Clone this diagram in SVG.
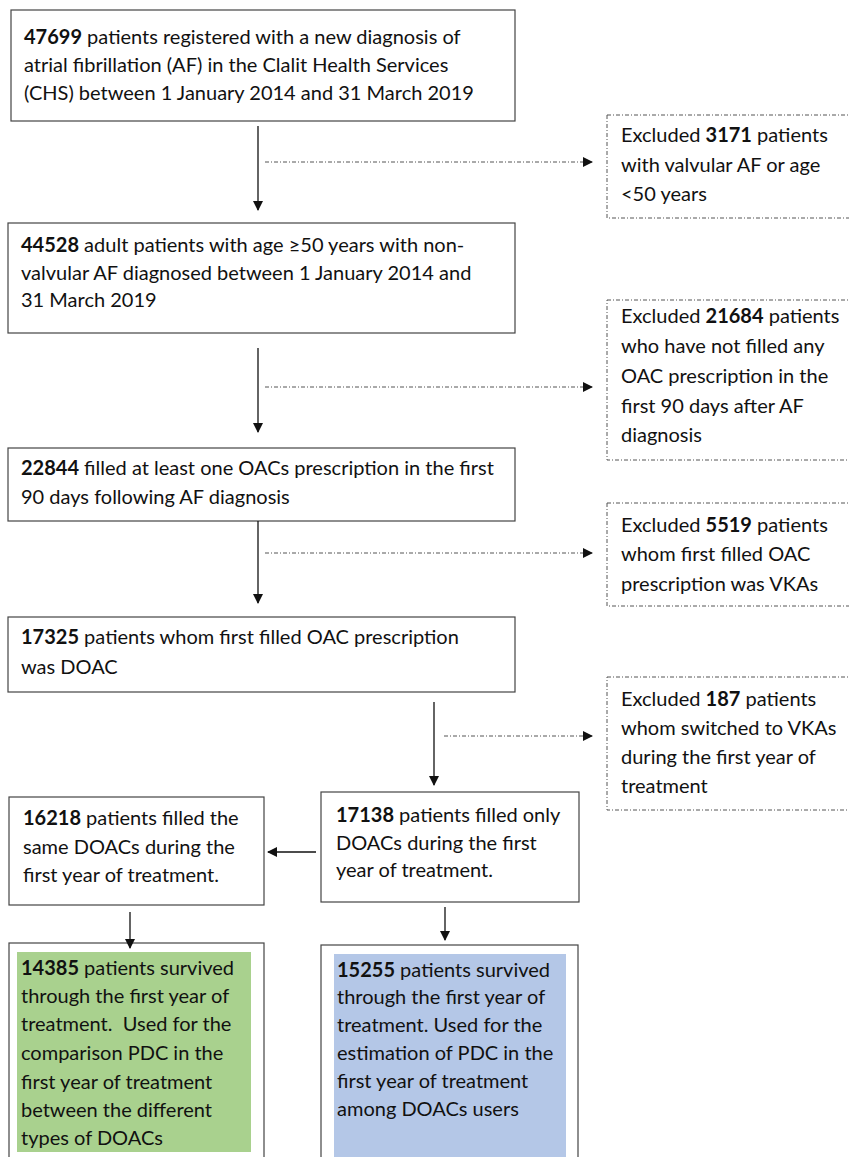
<svg xmlns="http://www.w3.org/2000/svg" width="849" height="1157" viewBox="0 0 849 1157">
<style>
.box{fill:#fff;stroke:#444;stroke-width:1.2}
.dbox{fill:#fff;stroke:#555;stroke-width:1;stroke-dasharray:4 2 1 2}
.t{font-family:Lato,"Open Sans",sans-serif;font-size:20px;fill:#111}
.b{font-weight:bold}
.ln{stroke:#111;stroke-width:1.3;fill:none}
.dl{stroke:#555;stroke-width:1;fill:none;stroke-dasharray:4 2 1 2}
</style>
<defs>
<marker id="ah" markerWidth="10" markerHeight="10" refX="9" refY="5" orient="auto" markerUnits="userSpaceOnUse">
<path d="M0,0 L10,5 L0,10 Z" fill="#111"/>
</marker>
</defs>
<rect width="849" height="1157" fill="#fff"/>

<g id="n1">
<rect class="box" x="11" y="10" width="504" height="111"/>
<text class="t" x="24" y="44"><tspan class="b">47699</tspan> patients registered with a new diagnosis of</text>
<text class="t" x="24" y="72">atrial fibrillation (AF) in the Clalit Health Services</text>
<text class="t" x="24" y="100">(CHS) between 1 January 2014 and 31 March 2019</text>
</g>

<g id="x1">
<rect class="dbox" x="607" y="115" width="250" height="103"/>
<text class="t" x="621" y="142">Excluded <tspan class="b">3171</tspan> patients</text>
<text class="t" x="621" y="172">with valvular AF or age</text>
<text class="t" x="621" y="201">&lt;50 years</text>
</g>

<g id="n2">
<rect class="box" x="8" y="223" width="507" height="110"/>
<text class="t" x="21" y="252"><tspan class="b">44528</tspan> adult patients with age ≥50 years with non-</text>
<text class="t" x="21" y="280">valvular AF diagnosed between 1 January 2014 and</text>
<text class="t" x="21" y="307">31 March 2019</text>
</g>

<g id="x2">
<rect class="dbox" x="607" y="300" width="250" height="160"/>
<text class="t" x="621" y="323">Excluded <tspan class="b">21684</tspan> patients</text>
<text class="t" x="621" y="353">who have not filled any</text>
<text class="t" x="621" y="383">OAC prescription in the</text>
<text class="t" x="621" y="413">first 90 days after AF</text>
<text class="t" x="621" y="442">diagnosis</text>
</g>

<g id="n3">
<rect class="box" x="8" y="448" width="507" height="73"/>
<text class="t" x="21" y="475"><tspan class="b">22844</tspan> filled at least one OACs prescription in the first</text>
<text class="t" x="21" y="504">90 days following AF diagnosis</text>
</g>

<g id="x3">
<rect class="dbox" x="607" y="503" width="250" height="103"/>
<text class="t" x="621" y="532">Excluded <tspan class="b">5519</tspan> patients</text>
<text class="t" x="621" y="561">whom first filled OAC</text>
<text class="t" x="621" y="591">prescription was VKAs</text>
</g>

<g id="n4">
<rect class="box" x="8" y="617" width="507" height="75"/>
<text class="t" x="21" y="644"><tspan class="b">17325</tspan> patients whom first filled OAC prescription</text>
<text class="t" x="21" y="674">was DOAC</text>
</g>

<g id="x4">
<rect class="dbox" x="607" y="677" width="250" height="133"/>
<text class="t" x="621" y="706">Excluded <tspan class="b">187</tspan> patients</text>
<text class="t" x="621" y="735">whom switched to VKAs</text>
<text class="t" x="621" y="764">during the first year of</text>
<text class="t" x="621" y="793">treatment</text>
</g>

<g id="n5">
<rect class="box" x="321" y="792" width="258" height="110"/>
<text class="t" x="336" y="822"><tspan class="b">17138</tspan> patients filled only</text>
<text class="t" x="336" y="850">DOACs during the first</text>
<text class="t" x="336" y="877">year of treatment.</text>
</g>

<g id="n6">
<rect class="box" x="9" y="797" width="255" height="108"/>
<text class="t" x="23" y="825"><tspan class="b">16218</tspan> patients filled the</text>
<text class="t" x="23" y="854">same DOACs during the</text>
<text class="t" x="23" y="882">first year of treatment.</text>
</g>

<g id="n7">
<rect class="box" x="9" y="943" width="255" height="220"/>
<rect x="17" y="952" width="234" height="200" fill="#a9d18e"/>
<text class="t" x="21" y="975"><tspan class="b">14385</tspan> patients survived</text>
<text class="t" x="21" y="1003">through the first year of</text>
<text class="t" x="21" y="1031">treatment.&#160; Used for the</text>
<text class="t" x="21" y="1060">comparison PDC in the</text>
<text class="t" x="21" y="1089">first year of treatment</text>
<text class="t" x="21" y="1117">between the different</text>
<text class="t" x="21" y="1145">types of DOACs</text>
</g>

<g id="n8">
<rect class="box" x="321" y="945" width="257" height="220"/>
<rect x="334" y="954" width="232" height="210" fill="#b4c7e7"/>
<text class="t" x="337" y="977"><tspan class="b">15255</tspan> patients survived</text>
<text class="t" x="337" y="1004">through the first year of</text>
<text class="t" x="337" y="1032">treatment. Used for the</text>
<text class="t" x="337" y="1060">estimation of PDC in the</text>
<text class="t" x="337" y="1088">first year of treatment</text>
<text class="t" x="337" y="1116">among DOACs users</text>
</g>

<g id="connectors">
<line class="ln" x1="258" y1="126" x2="258" y2="210" marker-end="url(#ah)"/>
<line class="dl" x1="265" y1="162" x2="592" y2="162" marker-end="url(#ah)"/>
<line class="ln" x1="258" y1="348" x2="258" y2="432" marker-end="url(#ah)"/>
<line class="dl" x1="265" y1="387" x2="592" y2="387" marker-end="url(#ah)"/>
<line class="ln" x1="258" y1="521" x2="258" y2="603" marker-end="url(#ah)"/>
<line class="dl" x1="265" y1="553" x2="592" y2="553" marker-end="url(#ah)"/>
<line class="ln" x1="434" y1="702" x2="434" y2="785" marker-end="url(#ah)"/>
<line class="dl" x1="444" y1="736" x2="592" y2="736" marker-end="url(#ah)"/>
<line class="ln" x1="316" y1="852" x2="268" y2="852" marker-end="url(#ah)"/>
<line class="ln" x1="130" y1="912" x2="130" y2="948" marker-end="url(#ah)"/>
<line class="ln" x1="445" y1="907" x2="445" y2="940" marker-end="url(#ah)"/>
</g>
</svg>
